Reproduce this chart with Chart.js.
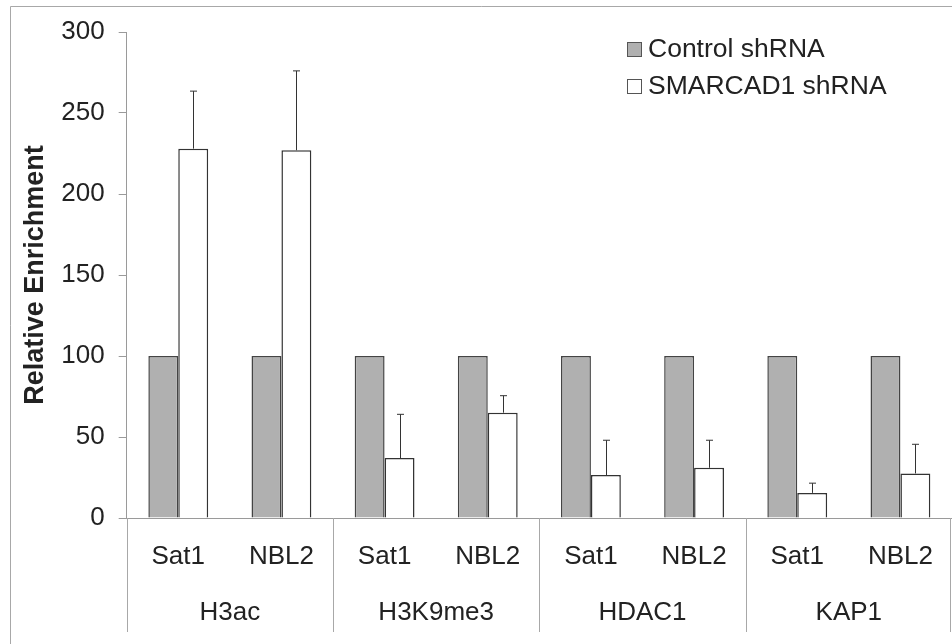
<!DOCTYPE html>
<html>
<head>
<meta charset="utf-8">
<script src="https://cdn.jsdelivr.net/npm/chart.js@4/dist/chart.umd.min.js"></script>
<style>
  html, body { margin: 0; padding: 0; background: #fff; overflow: hidden; }
  canvas { display: block; }
</style>
</head>
<body>
<canvas id="c" width="952" height="644"></canvas>
<script>
// ---- data ----
const loci = ['Sat1', 'NBL2', 'Sat1', 'NBL2', 'Sat1', 'NBL2', 'Sat1', 'NBL2'];
const groups = ['H3ac', 'H3K9me3', 'HDAC1', 'KAP1'];
const seriesNames = ['Control shRNA', 'SMARCAD1 shRNA'];
const controlValues = [100, 100, 100, 100, 100, 100, 100, 100];
const smarcadValues = [228, 227, 37, 65, 26.5, 31, 15.5, 27.5];
const smarcadErrors = [35.5, 49, 27, 10.5, 21.5, 17, 6, 18];
const yTicks = [0, 50, 100, 150, 200, 250, 300];

const FONT = "'Liberation Sans', Arial, Helvetica, sans-serif";
const TEXT = '#222222';
const AXIS = '#9a9a9a';

const decor = {
  id: 'decor',
  beforeDraw(chart) {
    const ctx = chart.ctx;
    ctx.save();
    ctx.fillStyle = '#ffffff';
    ctx.fillRect(0, 0, chart.width, chart.height);
    ctx.strokeStyle = '#a8a8a8';
    ctx.lineWidth = 1;
    ctx.beginPath();
    ctx.moveTo(10.5, chart.height + 2);
    ctx.lineTo(10.5, 6.5);
    ctx.lineTo(chart.width + 2, 6.5);
    ctx.stroke();
    ctx.restore();
  },
  afterDatasetsDraw(chart) {
    const ctx = chart.ctx;
    const y = chart.scales.y;
    const meta = chart.getDatasetMeta(1);
    ctx.save();
    ctx.strokeStyle = '#333333';
    ctx.lineWidth = 1;
    meta.data.forEach((bar, i) => {
      const x = Math.round(bar.x) + 0.5;
      const yTop = y.getPixelForValue(smarcadValues[i] + smarcadErrors[i]);
      const yBase = y.getPixelForValue(smarcadValues[i]);
      ctx.beginPath();
      ctx.moveTo(x, yBase);
      ctx.lineTo(x, yTop);
      ctx.moveTo(x - 3.5, yTop);
      ctx.lineTo(x + 3.5, yTop);
      ctx.stroke();
    });
    ctx.restore();
  },
  afterDraw(chart) {
    const ctx = chart.ctx;
    const x2 = chart.scales.x2;
    const area = chart.chartArea;
    ctx.save();
    // group separators
    ctx.strokeStyle = '#a8a8a8';
    ctx.lineWidth = 1;
    for (let i = 0; i <= groups.length; i++) {
      let px = x2.getPixelForValue(i - 0.5);
      px = Math.round(px) + 0.5;
      if (px > chart.width - 1) px = chart.width - 1.5;
      ctx.beginPath();
      ctx.moveTo(px, area.bottom);
      ctx.lineTo(px, area.bottom + 114);
      ctx.stroke();
    }
    // legend
    const fills = ['#b0b0b0', '#ffffff'];
    const lx = area.right - 325;
    const rows = [area.top + 17, area.top + 54];
    ctx.font = '26.5px ' + FONT;
    ctx.textBaseline = 'middle';
    ctx.textAlign = 'left';
    seriesNames.forEach((name, i) => {
      ctx.fillStyle = fills[i];
      ctx.fillRect(lx, rows[i] - 7, 15, 15);
      ctx.strokeStyle = '#555555';
      ctx.strokeRect(lx + 0.5, rows[i] - 6.5, 14, 14);
      ctx.fillStyle = TEXT;
      ctx.fillText(name, lx + 21, rows[i] + 1);
    });
    ctx.restore();
  }
};

const noSidePadding = (scale) => { scale.paddingLeft = 0; scale.paddingRight = 0; };

new Chart(document.getElementById('c'), {
  type: 'bar',
  data: {
    labels: loci,
    datasets: [
      {
        label: seriesNames[0],
        data: controlValues,
        backgroundColor: '#b0b0b0',
        borderColor: '#444444',
        borderWidth: 1.5,
        borderSkipped: 'bottom'
      },
      {
        label: seriesNames[1],
        data: smarcadValues,
        backgroundColor: '#ffffff',
        borderColor: '#333333',
        borderWidth: 1.5,
        borderSkipped: 'bottom'
      }
    ]
  },
  options: {
    responsive: false,
    devicePixelRatio: 1,
    animation: false,
    datasets: { bar: { categoryPercentage: 0.58, barPercentage: 1.0 } },
    layout: { padding: { left: 23, right: 0, top: 32, bottom: 14 } },
    plugins: {
      legend: { display: false },
      tooltip: { enabled: false },
      title: { display: false }
    },
    scales: {
      x: {
        type: 'category',
        position: 'bottom',
        offset: true,
        weight: 0,
        afterFit: noSidePadding,
        grid: { display: false, drawTicks: false, drawOnChartArea: false },
        border: { display: true, color: AXIS, width: 1 },
        ticks: { color: TEXT, font: { family: FONT, size: 26 }, padding: 23.4, maxRotation: 0, autoSkip: false }
      },
      x2: {
        type: 'category',
        position: 'bottom',
        labels: groups,
        offset: true,
        weight: 1,
        afterFit: noSidePadding,
        grid: { display: false, drawTicks: false, drawOnChartArea: false },
        border: { display: false },
        ticks: { color: TEXT, font: { family: FONT, size: 26 }, padding: 1.4, maxRotation: 0, autoSkip: false }
      },
      y: {
        min: 0,
        max: 300,
        afterBuildTicks(scale) { scale.ticks = yTicks.map(v => ({ value: v })); },
        grid: { display: true, drawOnChartArea: false, drawTicks: true, tickLength: 8, color: AXIS },
        border: { display: true, color: AXIS, width: 1 },
        ticks: { color: TEXT, font: { family: FONT, size: 26 }, padding: 14 },
        title: {
          display: true,
          text: 'Relative Enrichment',
          color: TEXT,
          font: { family: FONT, size: 27, weight: 'bold', lineHeight: 0.9 },
          padding: { top: 0, bottom: 0 }
        }
      }
    }
  },
  plugins: [decor]
});
</script>
</body>
</html>
